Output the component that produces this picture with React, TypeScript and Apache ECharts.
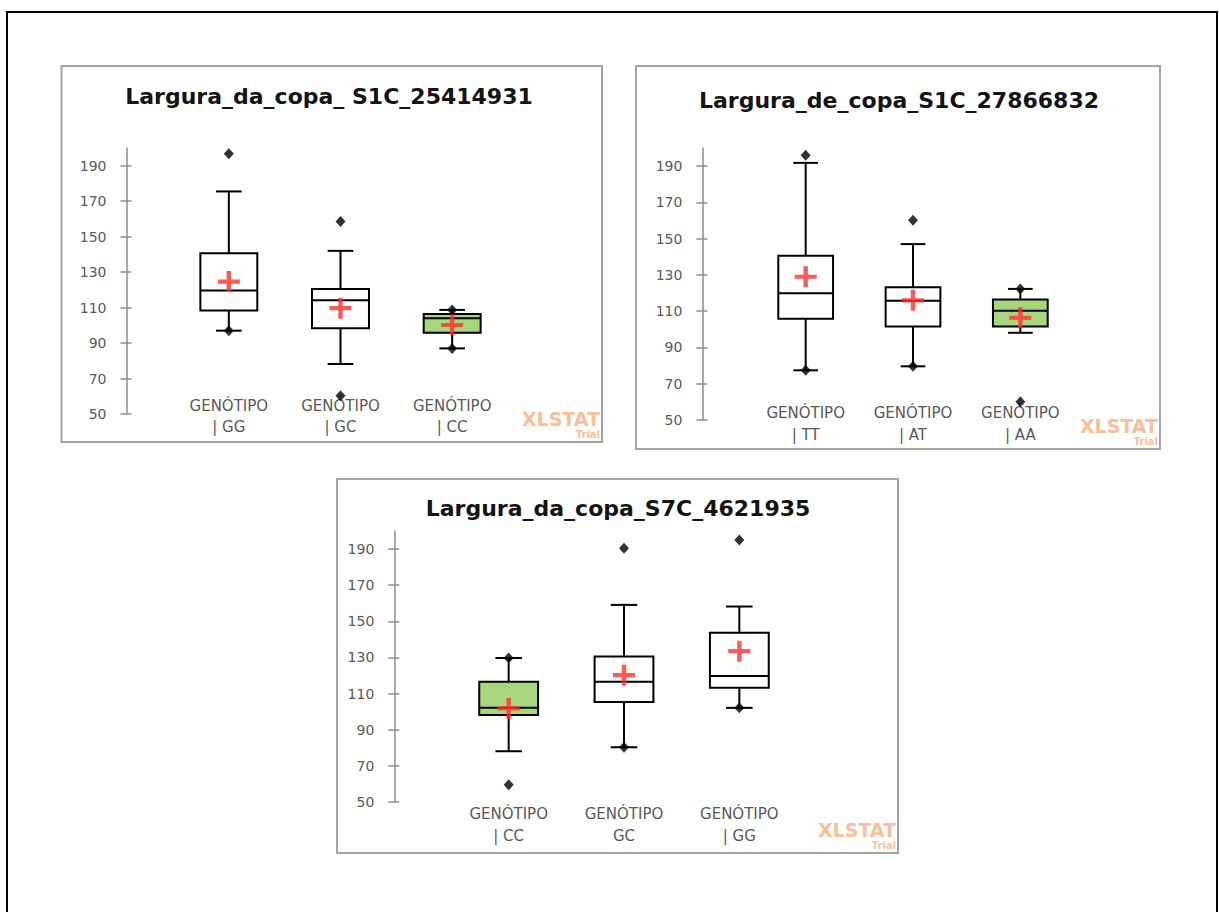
import React, { useEffect, useRef } from 'react';
import * as echarts from 'echarts';

// ---------- data ----------
const yTicks = [50, 70, 90, 110, 130, 150, 170, 190];
const titles = [
  'Largura_da_copa_ S1C_25414931',
  'Largura_de_copa_S1C_27866832',
  'Largura_da_copa_S7C_4621935',
];

// Chart 1
const cats1 = ['GENÓTIPO\n| GG', 'GENÓTIPO\n| GC', 'GENÓTIPO\n| CC'];
const lowW1 = [97.0, 78.2, 87.0];
const q1s1 = [108.3, 98.4, 95.8];
const med1 = [119.6, 114.2, 104.0];
const q3s1 = [140.7, 120.5, 106.4];
const highW1 = [175.5, 142.0, 108.7];
const mean1 = [124.7, 109.7, 100.2];
const min1 = [97.0, 60.3, 87.0];
const max1 = [196.8, 158.6, 108.7];

// Chart 2
const cats2 = ['GENÓTIPO\n| TT', 'GENÓTIPO\n| AT', 'GENÓTIPO\n| AA'];
const lowW2 = [77.4, 79.6, 98.1];
const q1s2 = [105.8, 101.6, 101.6];
const med2 = [119.9, 115.8, 110.2];
const q3s2 = [140.6, 123.2, 116.4];
const highW2 = [191.8, 147.0, 122.3];
const mean2 = [129.0, 116.0, 106.4];
const min2 = [77.4, 79.6, 60.0];
const max2 = [196.0, 160.2, 122.3];

// Chart 3
const cats3 = ['GENÓTIPO\n| CC', 'GENÓTIPO\nGC', 'GENÓTIPO\n| GG'];
const lowW3 = [78.1, 80.3, 102.1];
const q1s3 = [98.2, 105.3, 113.2];
const med3 = [102.1, 116.5, 119.8];
const q3s3 = [116.5, 130.6, 143.7];
const highW3 = [129.7, 159.1, 158.2];
const mean3 = [101.8, 120.2, 133.5];
const min3 = [59.6, 80.3, 102.1];
const max3 = [129.7, 190.5, 195.0];

const charts = [
  { cats: cats1, lowW: lowW1, q1: q1s1, med: med1, q3: q3s1, highW: highW1, mean: mean1, min: min1, max: max1 },
  { cats: cats2, lowW: lowW2, q1: q1s2, med: med2, q3: q3s2, highW: highW2, mean: mean2, min: min2, max: max2 },
  { cats: cats3, lowW: lowW3, q1: q1s3, med: med3, q3: q3s3, highW: highW3, mean: mean3, min: min3, max: max3 },
];

// ---------- layout / style ----------
const panels = [
  { frame: [61.5, 66, 540.5, 376], grid: { left: 173, top: 148, width: 335, height: 266 }, yOffset: 46.5, labelMargin: -19, titleX: 329, titleY: 97, green: 2 },
  { frame: [636, 66, 524, 383], grid: { left: 752, top: 148, width: 322, height: 272 }, yOffset: 49.6, labelMargin: -17.5, titleX: 899, titleY: 101, green: 2 },
  { frame: [337, 479, 561, 374], grid: { left: 451, top: 531, width: 346, height: 271 }, yOffset: 56.7, labelMargin: 1.5, titleX: 618, titleY: 509, green: 0 },
];

const GREEN = '#a9d57c';
const AXIS_GRAY = '#8c8c8c';
const LABEL_GRAY = '#595959';
const MEAN_RED = '#ff3030';
const WM = '#f9bf9c';
const PLUS = 'path://M8,0H12V8H20V12H12V20H8V12H0V8H8Z';

function makeRender(greenIdx: number) {
  return (params: any, api: any) => {
    const i = api.value(0);
    const lo = api.coord([i, api.value(1)]);
    const q1 = api.coord([i, api.value(2)]);
    const md = api.coord([i, api.value(3)]);
    const q3 = api.coord([i, api.value(4)]);
    const hi = api.coord([i, api.value(5)]);
    const band = api.size([1, 0])[0];
    const bw = band * 0.51;
    const cw = band * 0.23;
    const cx = lo[0];
    const ln = (x1: number, y1: number, x2: number, y2: number) => ({
      type: 'line',
      shape: { x1, y1, x2, y2 },
      style: { stroke: '#000', lineWidth: 2 },
    });
    return {
      type: 'group',
      children: [
        ln(cx, hi[1], cx, q3[1]),
        ln(cx, q1[1], cx, lo[1]),
        ln(cx - cw / 2, hi[1], cx + cw / 2, hi[1]),
        ln(cx - cw / 2, lo[1], cx + cw / 2, lo[1]),
        {
          type: 'rect',
          shape: { x: cx - bw / 2, y: q3[1], width: bw, height: q1[1] - q3[1] },
          style: { fill: i === greenIdx ? GREEN : '#fff', stroke: '#000', lineWidth: 2 },
        },
        ln(cx - bw / 2, md[1], cx + bw / 2, md[1]),
      ],
    };
  };
}

function buildOption() {
  const grid: any[] = [];
  const xAxis: any[] = [];
  const yAxis: any[] = [];
  const series: any[] = [];
  const title: any[] = [];
  const graphic: any[] = [];

  graphic.push({
    type: 'rect',
    shape: { x: 7, y: 12, width: 1210, height: 920 },
    style: { fill: 'none', stroke: '#000', lineWidth: 2 },
    z: 0,
  });

  panels.forEach((p, k) => {
    const c = charts[k];
    const [fx, fy, fw, fh] = p.frame;
    graphic.push({
      type: 'rect',
      shape: { x: fx, y: fy, width: fw, height: fh },
      style: { fill: 'none', stroke: '#a3a3a3', lineWidth: 2 },
      z: 0,
    });
    graphic.push({
      type: 'text',
      x: fx + fw - 2,
      y: fy + fh - 23,
      style: { text: 'XLSTAT', fill: WM, font: 'bold 19px "DejaVu Sans"', textAlign: 'right', textVerticalAlign: 'middle' },
      z: 1,
    });
    graphic.push({
      type: 'text',
      x: fx + fw - 2,
      y: fy + fh - 7.5,
      style: { text: 'Trial', fill: WM, font: 'bold 10px "DejaVu Sans"', textAlign: 'right', textVerticalAlign: 'middle' },
      z: 1,
    });

    title.push({
      text: titles[k],
      left: p.titleX,
      top: p.titleY - 12,
      textAlign: 'center',
      padding: 0,
      textStyle: { fontFamily: 'DejaVu Sans', fontWeight: 'bold', fontSize: 22, color: '#141414' },
    });

    grid.push({ ...p.grid, containLabel: false });

    xAxis.push({
      gridIndex: k,
      type: 'category',
      data: c.cats,
      axisLine: { show: false },
      axisTick: { show: false },
      splitLine: { show: false },
      axisLabel: {
        interval: 0,
        margin: p.labelMargin,
        color: LABEL_GRAY,
        fontFamily: 'DejaVu Sans',
        fontSize: 15,
        lineHeight: 21.5,
      },
    });

    yAxis.push({
      gridIndex: k,
      type: 'value',
      min: 50,
      max: 200,
      position: 'left',
      offset: p.yOffset,
      axisLine: { show: true, lineStyle: { color: AXIS_GRAY, width: 1.5 } },
      axisTick: { show: true, length: 6, customValues: yTicks, lineStyle: { color: AXIS_GRAY, width: 1.5 } },
      axisLabel: { customValues: yTicks, margin: 20, color: LABEL_GRAY, fontFamily: 'DejaVu Sans', fontSize: 14 },
      splitLine: { show: false },
    });
    yAxis.push({
      gridIndex: k,
      type: 'value',
      min: 50,
      max: 200,
      position: 'left',
      offset: p.yOffset,
      axisLine: { show: false },
      axisTick: { show: true, inside: true, length: 5, customValues: yTicks, lineStyle: { color: AXIS_GRAY, width: 1.5 } },
      axisLabel: { show: false },
      splitLine: { show: false },
    });

    const yIdx = k * 2;
    series.push({
      type: 'custom',
      xAxisIndex: k,
      yAxisIndex: yIdx,
      renderItem: makeRender(p.green),
      encode: { x: 0, y: [1, 2, 3, 4, 5] },
      data: c.cats.map((_, i) => [i, c.lowW[i], c.q1[i], c.med[i], c.q3[i], c.highW[i]]),
      z: 2,
      silent: true,
    });
    series.push({
      type: 'scatter',
      xAxisIndex: k,
      yAxisIndex: yIdx,
      symbol: 'diamond',
      symbolSize: [10, 11],
      itemStyle: { color: '#000' },
      data: c.cats.map((_, i) => [i, c.min[i]]).concat(c.cats.map((_, i) => [i, c.max[i]])),
      z: 3,
      silent: true,
    });
    series.push({
      type: 'scatter',
      xAxisIndex: k,
      yAxisIndex: yIdx,
      symbol: PLUS,
      symbolSize: [22, 21],
      itemStyle: { color: MEAN_RED },
      data: c.mean.map((v, i) => [i, v]),
      z: 4,
      silent: true,
    });
  });

  return {
    animation: false,
    backgroundColor: '#ffffff',
    title,
    grid,
    xAxis,
    yAxis,
    series,
    graphic,
  };
}

export default function App() {
  const ref = useRef<HTMLDivElement>(null);
  useEffect(() => {
    if (!ref.current) return;
    const chart = echarts.init(ref.current, null, { renderer: 'svg' });
    chart.setOption(buildOption() as any);
    return () => chart.dispose();
  }, []);
  return (
    <div
      ref={ref}
      style={{ position: 'fixed', left: 0, top: 0, width: 1219, height: 912, background: '#fff' }}
    />
  );
}
